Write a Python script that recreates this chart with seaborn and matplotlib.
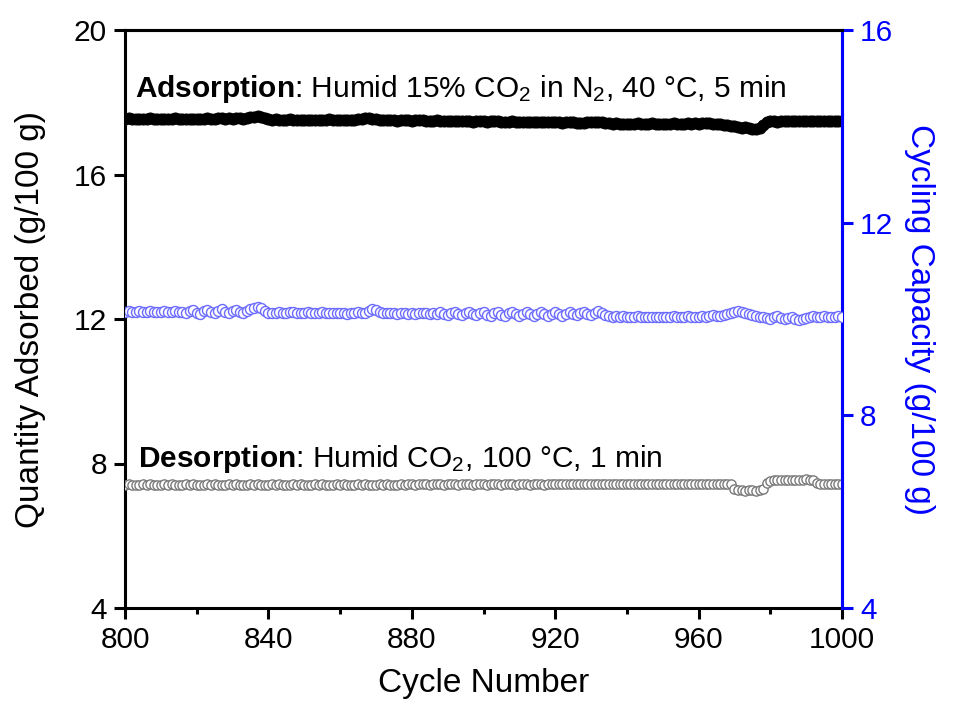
import numpy as np
import pandas as pd
import matplotlib
matplotlib.use("Agg")
import matplotlib.pyplot as plt
from matplotlib.ticker import MultipleLocator
import seaborn as sns

cycles = list(range(800, 1001))

adsorption = [
    17.55, 17.56, 17.54, 17.55, 17.53, 17.55, 17.54, 17.56, 17.55, 17.54,
    17.55, 17.53, 17.54, 17.55, 17.56, 17.54, 17.53, 17.55, 17.54, 17.55,
    17.53, 17.54, 17.55, 17.56, 17.55, 17.54, 17.56, 17.57, 17.55, 17.56,
    17.55, 17.56, 17.57, 17.55, 17.56, 17.58, 17.60, 17.62, 17.60, 17.56,
    17.53, 17.52, 17.53, 17.52, 17.51, 17.52, 17.53, 17.52, 17.51, 17.52,
    17.51, 17.52, 17.51, 17.50, 17.52, 17.51, 17.52, 17.53, 17.52, 17.51,
    17.52, 17.51, 17.50, 17.51, 17.52, 17.53, 17.54, 17.56, 17.57, 17.55,
    17.53, 17.52, 17.51, 17.50, 17.51, 17.50, 17.49, 17.50, 17.51, 17.50,
    17.49, 17.50, 17.51, 17.50, 17.49, 17.48, 17.49, 17.50, 17.49, 17.48,
    17.49, 17.48, 17.47, 17.48, 17.49, 17.48, 17.47, 17.46, 17.47, 17.48,
    17.47, 17.46, 17.47, 17.48, 17.47, 17.46, 17.45, 17.46, 17.47, 17.46,
    17.45, 17.46, 17.45, 17.44, 17.45, 17.46, 17.45, 17.44, 17.45, 17.46,
    17.45, 17.44, 17.43, 17.44, 17.45, 17.44, 17.43, 17.42, 17.43, 17.44,
    17.45, 17.46, 17.45, 17.44, 17.43, 17.42, 17.41, 17.42, 17.41, 17.40,
    17.41, 17.40, 17.41, 17.42, 17.41, 17.40, 17.41, 17.42, 17.41, 17.40,
    17.41, 17.40, 17.41, 17.42, 17.41, 17.40, 17.41, 17.42, 17.41, 17.42,
    17.41, 17.42, 17.43, 17.42, 17.41, 17.40, 17.41, 17.38, 17.36, 17.35,
    17.33, 17.32, 17.30, 17.31, 17.28, 17.25, 17.26, 17.28, 17.38, 17.45,
    17.48, 17.47, 17.46, 17.47, 17.48, 17.49, 17.48, 17.47, 17.48, 17.49,
    17.48, 17.47, 17.48, 17.49, 17.48, 17.47, 17.48, 17.49, 17.48, 17.47,
    17.48,
]

capacity = [
    10.15, 10.16, 10.15, 10.14, 10.16, 10.15, 10.14, 10.16, 10.15, 10.14,
    10.15, 10.16, 10.14, 10.15, 10.16, 10.15, 10.14, 10.12, 10.16, 10.18,
    10.13, 10.11, 10.17, 10.19, 10.14, 10.12, 10.17, 10.20, 10.15, 10.12,
    10.16, 10.19, 10.14, 10.12, 10.16, 10.20, 10.22, 10.25, 10.22, 10.16,
    10.13, 10.12, 10.13, 10.14, 10.13, 10.12, 10.14, 10.15, 10.13, 10.12,
    10.13, 10.14, 10.13, 10.12, 10.13, 10.14, 10.13, 10.12, 10.13, 10.12,
    10.13, 10.12, 10.11, 10.12, 10.13, 10.14, 10.12, 10.13, 10.17, 10.20,
    10.19, 10.15, 10.13, 10.12, 10.13, 10.12, 10.11, 10.12, 10.13, 10.11,
    10.12, 10.11, 10.12, 10.13, 10.12, 10.11, 10.12, 10.10, 10.14, 10.11,
    10.09, 10.13, 10.15, 10.10, 10.08, 10.12, 10.15, 10.10, 10.08, 10.12,
    10.15, 10.09, 10.07, 10.12, 10.14, 10.09, 10.07, 10.12, 10.15, 10.10,
    10.07, 10.11, 10.14, 10.10, 10.07, 10.11, 10.15, 10.10, 10.07, 10.11,
    10.14, 10.10, 10.07, 10.11, 10.15, 10.10, 10.08, 10.12, 10.15, 10.11,
    10.08, 10.12, 10.16, 10.12, 10.08, 10.06, 10.05, 10.06, 10.05, 10.06,
    10.05, 10.04, 10.05, 10.06, 10.05, 10.04, 10.05, 10.04, 10.05, 10.04,
    10.05, 10.04, 10.05, 10.06, 10.05, 10.04, 10.05, 10.06, 10.05, 10.04,
    10.05, 10.06, 10.05, 10.07, 10.08, 10.06, 10.07, 10.09, 10.10, 10.12,
    10.14, 10.16, 10.15, 10.12, 10.10, 10.08, 10.06, 10.04, 10.05, 10.03,
    10.01, 10.04, 10.06, 10.02, 10.00, 10.03, 10.05, 10.01, 9.98, 10.00,
    10.03, 10.05, 10.06, 10.04, 10.05, 10.06, 10.05, 10.04, 10.05, 10.06,
    10.05,
]

desorption = [
    7.41, 7.42, 7.41, 7.40, 7.41, 7.42, 7.41, 7.42, 7.41, 7.40,
    7.41, 7.42, 7.41, 7.42, 7.41, 7.40, 7.41, 7.42, 7.41, 7.42,
    7.41, 7.40, 7.41, 7.42, 7.41, 7.42, 7.41, 7.40, 7.41, 7.42,
    7.41, 7.42, 7.41, 7.40, 7.41, 7.42, 7.41, 7.42, 7.41, 7.40,
    7.41, 7.42, 7.41, 7.42, 7.41, 7.40, 7.41, 7.42, 7.41, 7.42,
    7.41, 7.40, 7.41, 7.42, 7.41, 7.42, 7.41, 7.40, 7.41, 7.42,
    7.41, 7.42, 7.41, 7.40, 7.41, 7.42, 7.41, 7.42, 7.41, 7.40,
    7.41, 7.42, 7.41, 7.42, 7.41, 7.40, 7.41, 7.42, 7.41, 7.42,
    7.42, 7.41, 7.42, 7.43, 7.42, 7.41, 7.42, 7.43, 7.42, 7.41,
    7.42, 7.43, 7.42, 7.41, 7.42, 7.43, 7.42, 7.41, 7.42, 7.43,
    7.42, 7.41, 7.42, 7.43, 7.42, 7.41, 7.42, 7.43, 7.42, 7.41,
    7.42, 7.43, 7.42, 7.41, 7.42, 7.43, 7.42, 7.41, 7.42, 7.43,
    7.43, 7.42, 7.43, 7.44, 7.43, 7.42, 7.43, 7.44, 7.43, 7.42,
    7.43, 7.44, 7.43, 7.42, 7.43, 7.44, 7.43, 7.42, 7.43, 7.44,
    7.43, 7.44, 7.43, 7.42, 7.43, 7.44, 7.43, 7.44, 7.43, 7.42,
    7.43, 7.44, 7.43, 7.44, 7.43, 7.42, 7.43, 7.44, 7.43, 7.44,
    7.43, 7.44, 7.43, 7.44, 7.43, 7.44, 7.43, 7.44, 7.43, 7.44,
    7.30, 7.26, 7.26, 7.25, 7.26, 7.26, 7.25, 7.26, 7.30, 7.45,
    7.52, 7.53, 7.54, 7.53, 7.54, 7.55, 7.54, 7.53, 7.54, 7.55,
    7.56, 7.54, 7.55, 7.45, 7.44, 7.43, 7.44, 7.43, 7.44, 7.43,
    7.44,
]

df = pd.DataFrame({"cycle": cycles, "ads": adsorption,
                   "des": desorption, "cap": capacity})

sns.set_theme(style="ticks")
plt.rcParams["font.family"] = ["Liberation Sans", "DejaVu Sans"]
plt.rcParams["mathtext.fontset"] = "custom"
plt.rcParams["mathtext.rm"] = "Liberation Sans"
plt.rcParams["mathtext.it"] = "Liberation Sans:italic"
plt.rcParams["mathtext.bf"] = "Liberation Sans:bold"
plt.rcParams["text.color"] = "black"
plt.rcParams["axes.labelcolor"] = "black"
plt.rcParams["xtick.color"] = "black"
plt.rcParams["ytick.color"] = "black"

fig = plt.figure(figsize=(9.61, 7.06), dpi=100)
ax = fig.add_axes([125 / 961, 1 - 608 / 706, (842 - 125) / 961, (608 - 30) / 706])
ax2 = ax.twinx()

BLUE = "#0000ff"

sns.scatterplot(data=df, x="cycle", y="ads", ax=ax, marker="o", s=62,
                color="black", edgecolor="black", linewidth=0.8, zorder=3)
sns.scatterplot(data=df, x="cycle", y="des", ax=ax, marker="o", s=44,
                facecolor="white", edgecolor="#7a7a7a", linewidth=1.0, zorder=3)
sns.scatterplot(data=df, x="cycle", y="cap", ax=ax2, marker="o", s=52,
                facecolor="white", edgecolor="#6b6bff", linewidth=1.0, zorder=3)

ax.set_xlim(800, 1000)
ax.set_ylim(4, 20)
ax2.set_ylim(4, 16)
ax.xaxis.set_major_locator(MultipleLocator(40))
ax.xaxis.set_minor_locator(MultipleLocator(20))
ax.yaxis.set_major_locator(MultipleLocator(4))
ax2.yaxis.set_major_locator(MultipleLocator(4))

ax.set_xlabel("Cycle Number", fontsize=24, labelpad=10, color="black")
ax.set_ylabel("Quantity Adsorbed (g/100 g)", fontsize=24, labelpad=20,
              color="black")
ax2.set_ylabel("Cycling Capacity (g/100 g)", fontsize=24, color=BLUE,
               rotation=270, labelpad=30)

for a in (ax, ax2):
    for sp in a.spines.values():
        sp.set_linewidth(2.2)
        sp.set_visible(True)
        sp.set_color("black")
ax2.spines["right"].set_color(BLUE)
ax2.spines["left"].set_visible(False)
ax2.spines["bottom"].set_visible(False)

ax.tick_params(axis="both", which="major", direction="out", length=8,
               width=2.2, labelsize=21.5, colors="black", pad=5)
ax.tick_params(axis="x", which="minor", direction="out", length=4.5, width=2.2,
               colors="black")
ax.tick_params(top=False, right=False)
ax2.tick_params(axis="y", which="major", direction="out", length=8, width=2.2,
                labelsize=21.5, colors=BLUE, pad=5)

ax.text(0.014, 0.884,
        r"$\mathbf{Adsorption}$: Humid 15% CO$_2$ in N$_2$, 40 °C, 5 min",
        transform=ax.transAxes, fontsize=21.5, va="baseline", ha="left",
        color="black")
ax.text(0.018, 0.244,
        r"$\mathbf{Desorption}$: Humid CO$_2$, 100 °C, 1 min",
        transform=ax.transAxes, fontsize=21.5, va="baseline", ha="left",
        color="black")

fig.savefig("out.png", dpi=100)
